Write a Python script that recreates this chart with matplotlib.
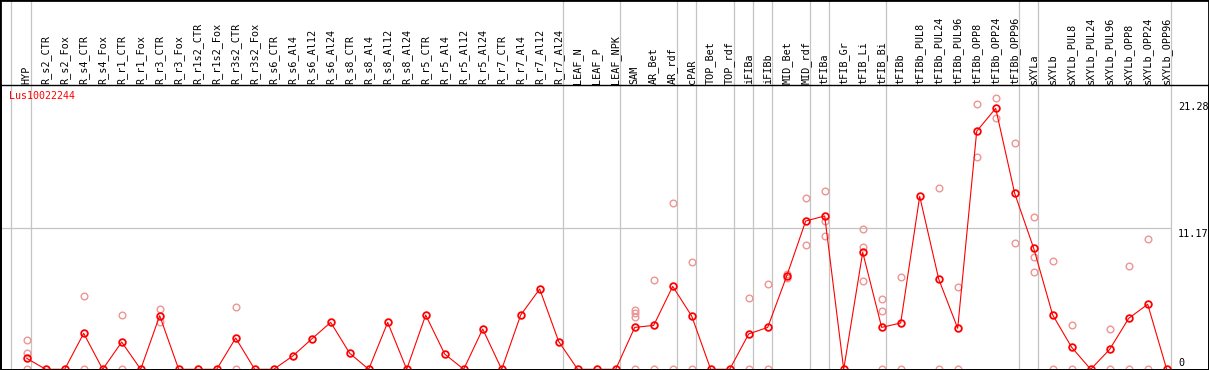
import matplotlib
matplotlib.use('Agg')
import matplotlib.pyplot as plt
import numpy as np
from matplotlib import transforms
from matplotlib.patches import Rectangle

# ---------------- data ----------------
categories = [
    'HYP', 'R_s2_CTR', 'R_s2_Fox', 'R_s4_CTR', 'R_s4_Fox', 'R_r1_CTR', 'R_r1_Fox',
    'R_r3_CTR', 'R_r3_Fox', 'R_r1s2_CTR', 'R_r1s2_Fox', 'R_r3s2_CTR', 'R_r3s2_Fox',
    'R_s6_CTR', 'R_s6_Al4', 'R_s6_Al12', 'R_s6_Al24', 'R_s8_CTR', 'R_s8_Al4',
    'R_s8_Al12', 'R_s8_Al24', 'R_r5_CTR', 'R_r5_Al4', 'R_r5_Al12', 'R_r5_Al24',
    'R_r7_CTR', 'R_r7_Al4', 'R_r7_Al12', 'R_r7_Al24', 'LEAF_N', 'LEAF_P', 'LEAF_NPK',
    'SAM', 'AR_Bet', 'AR_rdf', 'cPAR', 'TOP_Bet', 'TOP_rdf', 'iFIBa', 'iFIBb',
    'MID_Bet', 'MID_rdf', 'tFIBa', 'tFIB_Gr', 'tFIB_Li', 'tFIB_Bi', 'tFIBb',
    'tFIBb_PUL8', 'tFIBb_PUL24', 'tFIBb_PUL96', 'tFIBb_OPP8', 'tFIBb_OPP24',
    'tFIBb_OPP96', 'sXYLa', 'sXYLb', 'sXYLb_PUL8', 'sXYLb_PUL24', 'sXYLb_PUL96',
    'sXYLb_OPP8', 'sXYLb_OPP24', 'sXYLb_OPP96',
]

means = [
    0.87, 0, 0, 2.85, 0, 2.16, 0, 4.25, 0, 0, 0, 2.48, 0,
    0, 1.05, 2.4, 3.72, 1.27, 0, 3.72, 0, 4.3, 1.21, 0, 3.19, 0, 4.3, 6.36, 2.2,
    0, 0, 0,
    3.32, 3.48, 6.57, 4.22, 0, 0, 2.8, 3.32, 7.39, 11.75,
    12.15, 0, 9.27, 3.32,
    3.67, 13.71, 7.15, 3.25, 18.86, 20.68, 13.94,
    9.59, 4.30, 1.74, 0, 1.58, 4.04, 5.15, 0,
]

replicates = [
    [2.29, 1.32, 0], [], [], [5.8, 0], [], [4.3, 0], [],
    [4.78, 3.72], [], [], [], [4.94, 0], [],
    [], [], [], [], [], [], [], [], [], [], [], [], [], [], [], [],
    [], [], [],
    [4.70, 4.44, 4.17, 0], [7.05, 0], [13.15, 0], [8.48, 0], [], [],
    [5.62, 0], [6.73, 0], [7.55, 7.21], [13.55, 9.82],
    [14.15, 11.75, 10.56], [], [11.09, 9.66, 6.97], [5.54, 4.59, 0],
    [7.29, 0], [], [14.34, 0], [6.52, 0], [21.03, 16.80], [21.47, 19.94], [17.9, 9.98],
    [12.04, 8.92, 7.68], [8.55, 0], [3.51, 0], [], [3.17, 0], [8.15, 0], [10.3, 0], [],
]

group_sizes = [1, 28, 3, 3, 1, 2, 1, 1, 2, 1, 3, 7, 1, 7]
gene_name = 'Lus10022244'
y_marks = [21.28, 11.17, 0]
grid_value = 11.17

# ---------------- layout ----------------
W, H = 1209, 370
DPI = 100
plot_top = 85          # pixel row where the plot panel starts
col_w = 19.0           # pixel width of one category column
first_x = 26.7         # pixel x of first category
px_per_unit = 12.62
zero_from_bottom = 0.7

MONO = 'DejaVu Sans Mono'
RED = '#ff0000'
REP = '#ee9494'
GRAY = '#c4c4c4'

fig = plt.figure(figsize=(W / DPI, H / DPI), dpi=DPI)
ax_h = (H - plot_top) / H
ax = fig.add_axes([0, 0, 1, ax_h])

n = len(categories)
x = np.arange(n)
xmin = -first_x / col_w
xmax = (W - first_x) / col_w
ax.set_xlim(xmin, xmax)
ymin = -zero_from_bottom / px_per_unit
ymax = ymin + (H - plot_top) / px_per_unit
ax.set_ylim(ymin, ymax)

# separators (full figure height)
bounds = list(np.cumsum(group_sizes) - 1 + 0.21)
seps = [-0.82] + bounds
vtrans = transforms.blended_transform_factory(ax.transData, ax.transAxes)
ax.vlines(seps, 0, 1 / ax_h, transform=vtrans, colors=GRAY, lw=0.9,
          clip_on=False, zorder=1)

# horizontal grid line
ax.hlines(grid_value, xmin, bounds[-1], colors=GRAY, lw=0.9, zorder=1)

# replicates
rx = [i for i, reps in enumerate(replicates) for _ in reps]
ry = [v for reps in replicates for v in reps]
ax.plot(rx, ry, linestyle='none', marker='o', ms=4.8, mfc='none', mec=REP,
        mew=1.0, zorder=2)

# means
ax.plot(x, means, color=RED, lw=0.8, marker='o', ms=4.8, mfc='none', mec=RED,
        mew=1.3, zorder=3)

# category labels on top
ax.xaxis.tick_top()
ax.set_xticks(x)
ax.set_xticklabels(categories, rotation=90, fontfamily=MONO, fontsize=7.3)
ax.tick_params(axis='x', length=0, pad=0.8)
ax.set_yticks([])

# spines
for side in ['left', 'right', 'bottom']:
    ax.spines[side].set_linewidth(2.0)
ax.spines['top'].set_linewidth(1.0)
for s in ax.spines.values():
    s.set_color('black')

# figure border
fig.add_artist(Rectangle((0, 0), 1, 1, transform=fig.transFigure, fill=False,
                         lw=2.0, edgecolor='black'))

# y value labels on right
ytrans = transforms.blended_transform_factory(fig.transFigure, ax.transData)
for v in y_marks:
    va = 'bottom' if v == 0 else 'top'
    off = 1.5 if v == 0 else -1.0
    t = transforms.offset_copy(ytrans, fig=fig, y=off, units='dots')
    ax.text(1178 / W, v, f'{v:g}' if v == 0 else f'{v:.2f}', transform=t,
            ha='left', va=va, fontfamily=MONO, fontsize=7.3, color='black',
            clip_on=False)

# gene name
fig.text(9.5 / W, 1 - 91 / H, gene_name, ha='left', va='top', color=RED,
         fontfamily=MONO, fontsize=7.2)

fig.savefig('out.png', dpi=DPI)
